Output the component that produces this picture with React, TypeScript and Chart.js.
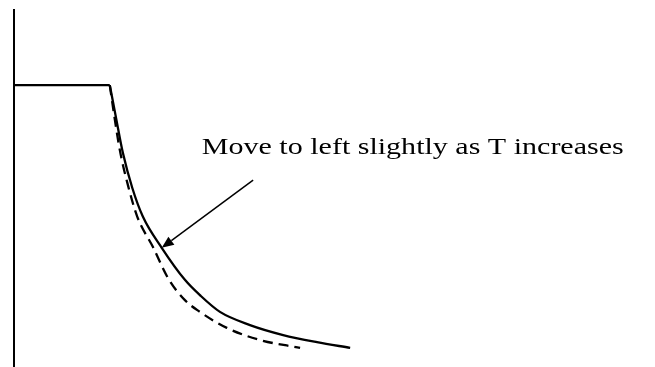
import React, { useEffect, useRef } from "react";
import { Chart, registerables } from "chart.js";

Chart.register(...registerables);

// Flat part of the curve, before the drop.
const plateauX = [0, 15.3];
const plateauY = [78.9, 78.9];

// Solid curve (current T).
const solidX = [15.3, 16.3, 17.4, 18.9, 20.6, 23.6, 27.3, 29.7, 32.9, 37.7, 43.0, 48.4, 53.7];
const solidY = [78.9, 69.7, 59.8, 50.0, 41.9, 33.2, 24.2, 19.9, 15.2, 11.5, 8.7, 6.7, 5.1];

// Dashed curve (higher T), shifted slightly left.
const dashedX = [15.3, 16.0, 16.9, 18.2, 19.7, 22.2, 24.6, 27.3, 29.7, 34.0, 39.3, 45.7];
const dashedY = [78.9, 70.5, 60.7, 50.8, 41.9, 33.4, 24.7, 18.5, 15.2, 10.7, 7.3, 5.1];

// Annotation: label span and arrow (tail -> head on the solid curve).
const noteText = "Move to left slightly as T increases";
const noteStart = [30.0, 59.6];
const noteEndX = 97.4;
const arrowTail = [38.2, 52.2];
const arrowHead = [solidX[5], solidY[5]];

const toPoints = (xs: number[], ys: number[]) => xs.map((x, i) => ({ x, y: ys[i] }));

const annotationPlugin = {
  id: "noteArrow",
  afterDatasetsDraw(chart: any) {
    const { ctx, scales } = chart;
    const sx = scales.x;
    const sy = scales.y;
    const tx = sx.getPixelForValue(arrowTail[0]);
    const ty = sy.getPixelForValue(arrowTail[1]);
    const hx = sx.getPixelForValue(arrowHead[0]);
    const hy = sy.getPixelForValue(arrowHead[1]);
    const ang = Math.atan2(hy - ty, hx - tx);
    const headLen = 12;
    const headHalf = 5;
    const bx = hx - headLen * Math.cos(ang);
    const by = hy - headLen * Math.sin(ang);

    ctx.save();
    ctx.strokeStyle = "#000";
    ctx.fillStyle = "#000";
    ctx.lineWidth = 1.5;
    ctx.beginPath();
    ctx.moveTo(tx, ty);
    ctx.lineTo(bx, by);
    ctx.stroke();
    ctx.beginPath();
    ctx.moveTo(hx, hy);
    ctx.lineTo(bx + headHalf * Math.sin(ang), by - headHalf * Math.cos(ang));
    ctx.lineTo(bx - headHalf * Math.sin(ang), by + headHalf * Math.cos(ang));
    ctx.closePath();
    ctx.fill();

    // Label, widened to span from its start to its end position.
    ctx.font = "24px 'Liberation Serif', 'Times New Roman', serif";
    ctx.textAlign = "left";
    ctx.textBaseline = "alphabetic";
    const x0 = sx.getPixelForValue(noteStart[0]);
    const x1 = sx.getPixelForValue(noteEndX);
    const y0 = sy.getPixelForValue(noteStart[1]);
    const w = ctx.measureText(noteText).width;
    ctx.translate(x0, y0);
    ctx.scale((x1 - x0) / w, 1);
    ctx.fillText(noteText, 0, 0);
    ctx.restore();
  },
};

export default function App() {
  const canvasRef = useRef<HTMLCanvasElement | null>(null);

  useEffect(() => {
    if (!canvasRef.current) return;
    const chart = new Chart(canvasRef.current, {
      type: "line",
      data: {
        datasets: [
          {
            data: toPoints(plateauX, plateauY),
            borderColor: "#000",
            borderWidth: 2.3,
            pointRadius: 0,
            tension: 0,
          },
          {
            data: toPoints(solidX, solidY),
            borderColor: "#000",
            borderWidth: 2.3,
            pointRadius: 0,
            cubicInterpolationMode: "monotone",
          },
          {
            data: toPoints(dashedX, dashedY),
            borderColor: "#000",
            borderWidth: 2.3,
            borderDash: [10, 6],
            pointRadius: 0,
            cubicInterpolationMode: "monotone",
          },
        ],
      },
      options: {
        animation: false,
        responsive: false,
        devicePixelRatio: 1,
        layout: { padding: { left: 14, top: 10, right: 15, bottom: 1 } },
        plugins: { legend: { display: false }, tooltip: { enabled: false } },
        scales: {
          x: {
            type: "linear",
            min: 0,
            max: 100,
            display: false,
          },
          y: {
            type: "linear",
            min: 0,
            max: 100,
            ticks: { display: false },
            grid: { display: true, color: "rgba(0,0,0,0)", drawTicks: false },
            border: { display: true, color: "#000", width: 2 },
          },
        },
      },
      plugins: [annotationPlugin],
    });
    return () => chart.destroy();
  }, []);

  return (
    <div style={{ position: "absolute", left: 0, top: 0, width: 655, height: 367, background: "#fff" }}>
      <canvas ref={canvasRef} width={655} height={367} />
    </div>
  );
}
